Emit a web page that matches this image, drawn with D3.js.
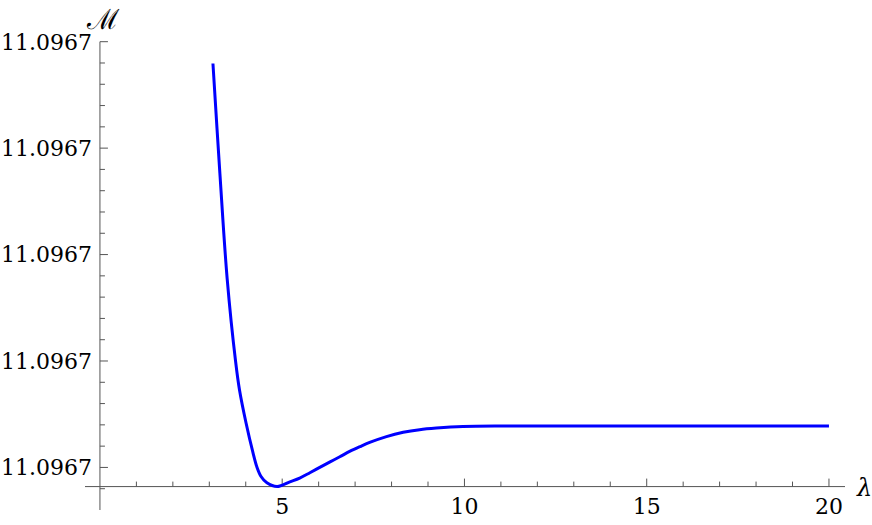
<!DOCTYPE html>
<html lang="en">
<head>
    <meta charset="UTF-8">
    <title>M vs lambda</title>
    <script src="https://d3js.org/d3.v7.min.js"></script>
    <style>
        body { margin: 0; background: #fff; }
    </style>
</head>
<body>
    <svg id="chart" width="872" height="525"></svg>

    <script>
        // values
        const lambda = [3.10, 3.29, 3.49, 3.72, 3.83, 4.01, 4.19, 4.31, 4.42, 4.58, 4.86, 5.21,
                        5.48, 5.76, 6.03, 6.30, 6.58, 6.85, 7.13, 7.40, 7.86, 8.32, 8.77, 9.23,
                        9.96, 11, 12, 15, 20];
        const mValues = [11.09670759, 11.09670553, 11.09670355, 11.09670200, 11.09670145, 11.09670083,
                         11.09670030, 11.09670000, 11.09669983, 11.09669971, 11.09669964, 11.09669973,
                         11.09669980, 11.09669990, 11.09670000, 11.09670010, 11.09670020, 11.09670030,
                         11.09670039, 11.09670047, 11.09670058, 11.09670066, 11.09670071, 11.09670074,
                         11.09670077, 11.09670078, 11.09670078, 11.09670078, 11.09670078];

        const xTicks = [5, 10, 15, 20];
        const xMinorTicks = d3.range(1, 21).filter(d => d % 5 !== 0);
        const yTicks = [11.0967, 11.096702, 11.096704, 11.096706, 11.096708];
        const yMinorTicks = [11.0966996, 11.0967004, 11.0967008, 11.0967012, 11.0967016,
                             11.0967024, 11.0967028, 11.0967032, 11.0967036,
                             11.0967044, 11.0967048, 11.0967052, 11.0967056,
                             11.0967064, 11.0967068, 11.0967072, 11.0967076];

        const data = lambda.map((l, i) => ({ l: l, m: mValues[i] }));

        const svg = d3.select("#chart");
        const axisColor = "#555";
        const font = "'DejaVu Serif', 'Liberation Serif', serif";

        const x = d3.scaleLinear().domain([-0.41, 20.44]).range([85, 845]);
        const y = d3.scaleLinear().domain([11.0966992, 11.096708]).range([510, 41.7]);

        const x0 = x(0);
        const yAxisPos = y(d3.min(mValues));

        // y axis (ticks pointing inward)
        const gy = svg.append("g").attr("transform", `translate(${x0},0)`);
        gy.append("line")
            .attr("y1", y.range()[0]).attr("y2", y.range()[1])
            .attr("stroke", axisColor);
        gy.selectAll(".minor").data(yMinorTicks).join("line")
            .attr("x1", 0).attr("x2", 5)
            .attr("y1", d => y(d)).attr("y2", d => y(d))
            .attr("stroke", axisColor);
        gy.selectAll(".major").data(yTicks).join("line")
            .attr("x1", 0).attr("x2", 8)
            .attr("y1", d => y(d)).attr("y2", d => y(d))
            .attr("stroke", axisColor);
        gy.selectAll("text").data(yTicks).join("text")
            .attr("x", -8)
            .attr("y", d => y(d))
            .attr("dy", "0.36em")
            .attr("text-anchor", "end")
            .style("font-family", font)
            .style("font-size", "22px")
            .text(d => d3.format(".4f")(d));

        // x axis
        const gx = svg.append("g").attr("transform", `translate(0,${yAxisPos})`);
        gx.append("line")
            .attr("x1", x.range()[0]).attr("x2", x.range()[1])
            .attr("stroke", axisColor);
        gx.selectAll(".minor").data(xMinorTicks).join("line")
            .attr("x1", d => x(d)).attr("x2", d => x(d))
            .attr("y1", 0).attr("y2", -5)
            .attr("stroke", axisColor);
        gx.selectAll(".major").data(xTicks).join("line")
            .attr("x1", d => x(d)).attr("x2", d => x(d))
            .attr("y1", 0).attr("y2", -8)
            .attr("stroke", axisColor);
        gx.selectAll("text").data(xTicks).join("text")
            .attr("x", d => x(d))
            .attr("y", 27)
            .attr("text-anchor", "middle")
            .style("font-family", font)
            .style("font-size", "22px")
            .text(d => d);

        // axis labels
        svg.append("text")
            .attr("x", 87).attr("y", 29)
            .style("font-family", font)
            .style("font-size", "28px")
            .text("\u2133");

        svg.append("text")
            .attr("x", 857).attr("y", 496)
            .style("font-family", font)
            .style("font-style", "italic")
            .style("font-size", "24px")
            .text("\u03bb");

        // curve
        const line = d3.line()
            .x(d => x(d.l))
            .y(d => y(d.m))
            .curve(d3.curveCatmullRom.alpha(0.5));

        svg.append("path")
            .datum(data)
            .attr("fill", "none")
            .attr("stroke", "#0000ff")
            .attr("stroke-width", 3)
            .attr("d", line);
    </script>
</body>
</html>
